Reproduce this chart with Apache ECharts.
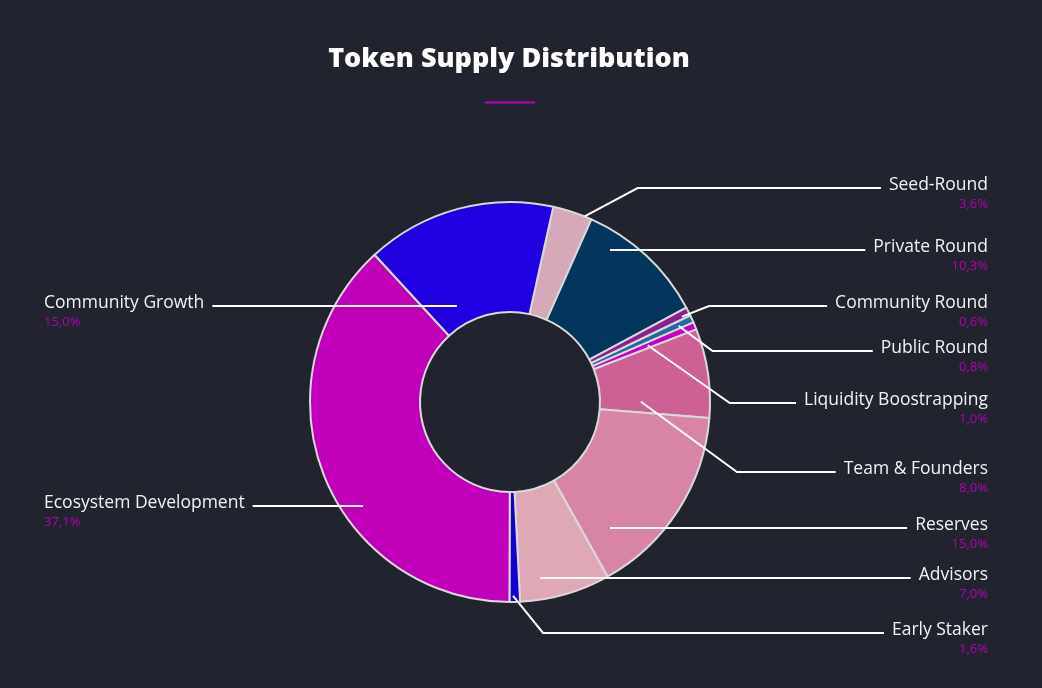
<!DOCTYPE html>
<html>
<head>
<meta charset="utf-8">
<script src="https://cdn.jsdelivr.net/npm/echarts@6/dist/echarts.min.js"></script>
<style>
  html, body { margin: 0; padding: 0; background: #21232e; }
  #chart { width: 1042px; height: 688px; }
</style>
</head>
<body>
<div id="chart"></div>
<script>
// categories in clockwise order, starting just right of 12 o'clock
const categories = ['Seed-Round', 'Private Round', 'Community Round', 'Public Round', 'Liquidity Boostrapping',
    'Team & Founders', 'Reserves', 'Advisors', 'Early Staker', 'Ecosystem Development', 'Community Growth'];
// percentages as printed in the labels
const shares = [3.6, 10.3, 0.6, 0.8, 1.0, 8.0, 15.0, 7.0, 1.6, 37.1, 15.0];
// slice sizes as drawn in the picture (%)
const arcSizes = [3.2, 10.5, 0.7, 0.6, 0.6, 7.2, 15.6, 7.3, 0.85, 38.1, 15.3];
const colors = ['#d6a9b9', '#03365c', '#8f1f8f', '#1f6b9c', '#c400c4',
    '#cd6094', '#d884a6', '#dea9b5', '#1400d0', '#c000b9', '#1e00e0'];

// label layout: y of the leader's horizontal run, and where the leader starts [angle from top, radius, bend]
const lineY = [188, 250, 306, 351, 403, 472, 528, 578, 633, 506, 306];
const leaders = [
    [21.9, 200, 53], [33.3, 182, 0], [63.6, 192, 27], [65.7, 185, 34], [67.6, 149, 82],
    [89.9, 131, 96], [141.6, 161, 0], [170.3, 178, 0], [179.1, 194, 30], [234.7, 180, 0], [331.1, 110, 0]
];

const CX = 510, CY = 402;
const LEFT_EDGE = 44, RIGHT_EDGE = 988;

const fmtPct = v => v.toFixed(1).replace('.', ',') + '%';
const isLeft = i => leaders[i][0] > 180;

const chart = echarts.init(document.getElementById('chart'));

const pieBase = {
    type: 'pie',
    center: [CX, CY],
    radius: [90, 200],
    startAngle: 77.5,
    clockwise: true,
    avoidLabelOverlap: false,
    emphasis: { disabled: true },
    silent: true
};

const nameStyle = { color: '#f2f2f2', fontSize: 17.5, lineHeight: 21, fontFamily: 'Open Sans' };
const pctStyle = { color: '#b400b4', fontSize: 13, lineHeight: 16, fontFamily: 'Open Sans' };

const option = {
    backgroundColor: '#21232e',
    animation: false,
    title: {
        text: 'Token Supply Distribution',
        left: 504,
        top: 41,
        textAlign: 'center',
        textStyle: {
            color: '#ffffff',
            fontFamily: 'Open Sans',
            fontWeight: 800,
            fontSize: 27
        }
    },
    graphic: [{
        type: 'rect',
        shape: { x: 485, y: 101.5, width: 50, height: 2 },
        style: { fill: '#c000c0' }
    }],
    series: [
        Object.assign({}, pieBase, {
            z: 2,
            itemStyle: { borderColor: '#d9d9d9', borderWidth: 2 },
            label: { show: false },
            labelLine: { show: false },
            data: categories.map((name, i) => ({
                name: name,
                value: arcSizes[i],
                itemStyle: { color: colors[i] }
            }))
        }),
        // transparent copy on top that carries the labels and leader lines
        Object.assign({}, pieBase, {
            z: 3,
            itemStyle: { color: 'rgba(0,0,0,0)', borderWidth: 0 },
            label: {
                show: true,
                position: 'outside',
                fontFamily: 'Open Sans',
                formatter: p => {
                    const side = isLeft(p.dataIndex) ? 'l' : 'r';
                    return `{n${side}|${p.name}}\n{p${side}|${fmtPct(shares[p.dataIndex])}}`;
                },
                rich: {
                    nr: Object.assign({ align: 'right' }, nameStyle),
                    pr: Object.assign({ align: 'right' }, pctStyle),
                    nl: Object.assign({ align: 'left' }, nameStyle),
                    pl: Object.assign({ align: 'left' }, pctStyle)
                }
            },
            labelLine: {
                show: true,
                smooth: false,
                lineStyle: { color: '#ffffff', width: 2 }
            },
            labelLayout: params => {
                const i = params.dataIndex;
                const left = isLeft(i);
                const w = params.labelRect.width;
                const y = lineY[i];
                const [ang, r, bend] = leaders[i];
                const t = ang * Math.PI / 180;
                const ax = CX + r * Math.sin(t);
                const ay = CY - r * Math.cos(t);
                const endX = left ? LEFT_EDGE + w + 8 : RIGHT_EDGE - w - 8;
                let pts;
                if (bend) {
                    const bx = ax + (left ? -bend : bend);
                    pts = [[ax, ay], [bx, y], [endX, y]];
                } else {
                    pts = [[ax, y], [(ax + endX) / 2, y], [endX, y]];
                }
                return {
                    x: left ? LEFT_EDGE : RIGHT_EDGE,
                    y: y - 13,
                    align: left ? 'left' : 'right',
                    verticalAlign: 'top',
                    labelLinePoints: pts
                };
            },
            data: categories.map((name, i) => ({ name: name, value: arcSizes[i] }))
        })
    ]
};

chart.setOption(option);
</script>
</body>
</html>
